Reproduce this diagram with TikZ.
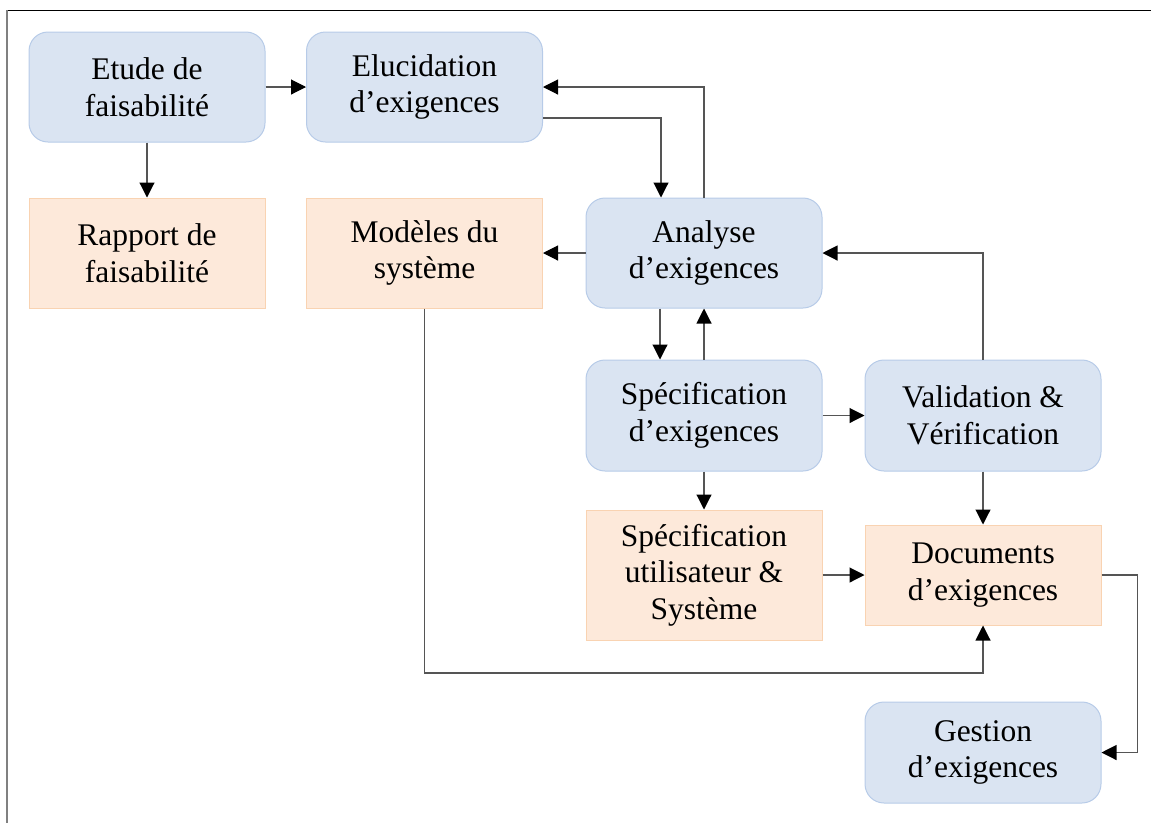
\documentclass[tikz,border=0pt]{standalone}
\usepackage{fontspec}
\setmainfont{Liberation Serif}
\usetikzlibrary{arrows.meta}
\definecolor{procfill}{HTML}{DAE4F2}
\definecolor{procline}{HTML}{B7CBE8}
\definecolor{docfill}{HTML}{FDE9DA}
\definecolor{docline}{HTML}{F9D3B2}
\definecolor{wire}{HTML}{555555}
\begin{document}
\begin{tikzpicture}[x=1pt,y=-1pt,
  every node/.style={font=\fontsize{31.5}{36.5}\selectfont, align=center, inner sep=0pt},
  proc/.style={rectangle, rounded corners=19pt, draw=procline, fill=procfill, line width=1pt,
    minimum width=236pt, minimum height=110pt},
  doc/.style={rectangle, draw=docline, fill=docfill, line width=1pt,
    minimum width=236pt, minimum height=110pt},
  arr/.style={draw=wire, line width=1.1pt, -{Triangle[length=15pt,width=15pt,fill=black,color=black]}}]
\useasboundingbox (0,0) rectangle (1151,823);
% frame
\draw[black, line width=1pt] (7,10) -- (1151,10);
\draw[gray, line width=2pt] (7,10) -- (7,823);

% process steps
\node[proc] (etude) at (147,87) {Etude de\\faisabilité};
\node[proc] (eluc) at (424.5,87) {Elucidation\\d’exigences};
\node[proc] (analyse) at (704,253) {Analyse\\d’exigences};
\node[proc, minimum height=111pt] (spec) at (704,415.5) {Spécification\\d’exigences};
\node[proc, minimum height=111pt] (valid) at (983,415.5) {Validation \&\\Vérification};
\node[proc, minimum height=101pt] (gestion) at (983,752.5) {Gestion\\d’exigences};

% documents produced
\node[doc] (rapport) at (147,253) {Rapport de\\faisabilité};
\node[doc] (modeles) at (424.5,253) {Modèles du\\système};
\node[doc, minimum height=130pt] (specu) at (704,575) {Spécification\\utilisateur \&\\Système};
\node[doc, minimum height=100pt] (docs) at (983,575) {Documents\\d’exigences};

\coordinate (mlow) at (0,673);

% flows
\draw[arr] (etude.east) -- (eluc.west);
\draw[arr] (etude.south) -- (rapport.north);
\draw[arr] (eluc.east |- 0,118) -| (analyse.north -| 661,0);
\draw[arr] (analyse.north) |- (eluc.east);
\draw[arr] (analyse.west) -- (modeles.east);
\draw[arr] (analyse.south -| 660,0) -- (spec.north -| 660,0);
\draw[arr] (spec.north) -- (analyse.south);
\draw[arr] (spec.east) -- (valid.west);
\draw[arr] (valid.north) |- (analyse.east);
\draw[arr] (valid.south) -- (docs.north);
\draw[arr] (spec.south) -- (specu.north);
\draw[arr] (specu.east) -- (docs.west);
\draw[arr] (modeles.south) -- (modeles.south |- mlow) -| (docs.south);
\draw[arr] (docs.east) -- ++(36,0) |- (gestion.east);
\end{tikzpicture}
\end{document}
